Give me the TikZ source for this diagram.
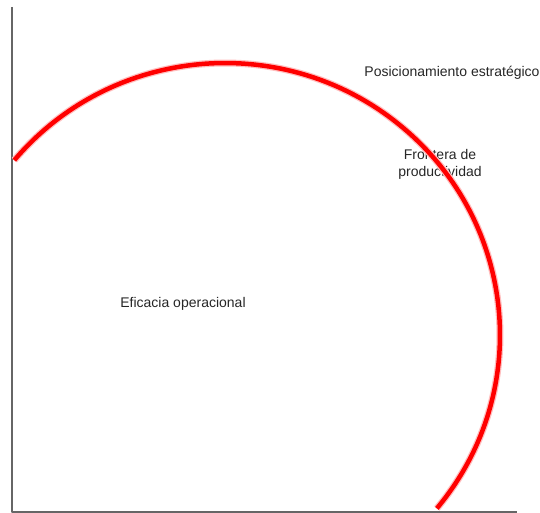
\documentclass[tikz,border=0pt]{standalone}
\usepackage{fontspec}
\setmainfont{Liberation Sans}
\definecolor{axisgray}{HTML}{666666}
\definecolor{frontierred}{HTML}{FF0000}
\tikzset{
  label_text/.style={draw=none,inner sep=0pt,align=center,text=black!85,
    font=\fontsize{14bp}{17bp}\selectfont},
  frontier/.style={x radius=275bp,y radius=272bp,start angle=140,end angle=-39.6},
}
\begin{document}
\begin{tikzpicture}[>=latex,line join=bevel,]
%%
\useasboundingbox (0bp,0bp) rectangle (540bp,513bp);
\coordinate (y_top) at (12bp,506bp);
\coordinate (origin) at (12bp,1bp);
\coordinate (x_end) at (517bp,1bp);
\draw [axisgray,line width=2bp] (y_top) -- (origin) -- (x_end);
%
\node (node_pos) at (452bp,440bp) [label_text] {Posicionamiento estrat\'egico};
  \node (node_front) at (440bp,348.5bp) [label_text] {Frontera de\\productividad};
  \node (node_efic) at (183bp,209.5bp) [label_text] {Eficacia operacional};
%
\coordinate (arc_start) at (14.3bp,352.8bp);
\draw [frontierred!25,line width=7bp] (arc_start) arc [frontier];
\draw [frontierred,line width=4.5bp] (arc_start) arc [frontier];
%
\end{tikzpicture}
\end{document}
